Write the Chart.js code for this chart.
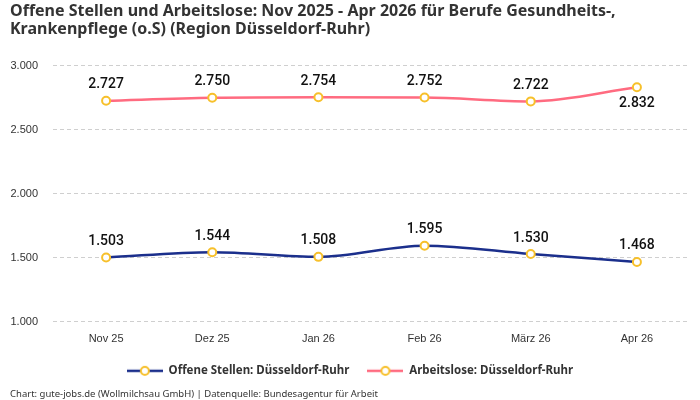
<!DOCTYPE html>
<html><head><meta charset="utf-8">
<script src="https://cdn.jsdelivr.net/npm/chart.js@4/dist/chart.umd.min.js"></script>
<style>html,body{margin:0;padding:0;background:#fff}#wrap{width:700px;height:400px}</style>
</head><body><div id="wrap"><canvas id="c" width="700" height="400"></canvas></div>
<script>
const categories = ["Nov 25","Dez 25","Jan 26","Feb 26","März 26","Apr 26"];
const offeneStellen = [1503,1544,1508,1595,1530,1468];
const arbeitslose = [2727,2750,2754,2752,2722,2832];
const seriesNames = ["Offene Stellen: Düsseldorf-Ruhr","Arbeitslose: Düsseldorf-Ruhr"];
const titleLines = ["Offene Stellen und Arbeitslose: Nov 2025 - Apr 2026 für Berufe Gesundheits-,","Krankenpflege (o.S) (Region Düsseldorf-Ruhr)"];
const footerText = "Chart: gute-jobs.de (Wollmilchsau GmbH) | Datenquelle: Bundesagentur für Arbeit";

const fmt = v => v.toLocaleString('de-DE');
const pointColor = '#f7c02b';
function legendIcon(color){
  const c = document.createElement('canvas'); c.width = 36; c.height = 12;
  const x = c.getContext('2d');
  x.strokeStyle = color; x.lineWidth = 2.5; x.beginPath(); x.moveTo(0,6); x.lineTo(36,6); x.stroke();
  x.fillStyle = '#fff'; x.strokeStyle = pointColor; x.lineWidth = 2; x.beginPath(); x.arc(18,6,4,0,Math.PI*2); x.fill(); x.stroke();
  return c;
}
const labelPlugin = {
  id:'valLabels',
  afterDatasetsDraw(chart){
    const ctx = chart.ctx;
    ctx.save();
    ctx.font = '500 14px Roboto, "Liberation Sans", Arial, sans-serif';
    ctx.fillStyle = '#111';
    ctx.textAlign = 'center'; ctx.textBaseline = 'middle';
    chart.data.datasets.forEach((ds,di)=>{
      const meta = chart.getDatasetMeta(di);
      meta.data.forEach((pt,i)=>{
        const below = pt.y - chart.chartArea.top < 24;
        ctx.fillText(fmt(ds.data[i]), pt.x, below ? pt.y + 16 : pt.y - 16);
      });
    });
    ctx.restore();
  }
};
new Chart(document.getElementById('c'),{
  type:'line',
  data:{labels:categories,datasets:[
    {label:seriesNames[0],data:offeneStellen,borderColor:'#1b2f8c',backgroundColor:'#1b2f8c',borderWidth:2.5,cubicInterpolationMode:'monotone',
     pointRadius:4,pointBorderWidth:2,pointBackgroundColor:'#fff',pointBorderColor:pointColor,pointStyle:'circle'},
    {label:seriesNames[1],data:arbeitslose,borderColor:'#ff6b80',backgroundColor:'#ff6b80',borderWidth:2.5,cubicInterpolationMode:'monotone',
     pointRadius:4,pointBorderWidth:2,pointBackgroundColor:'#fff',pointBorderColor:pointColor,pointStyle:'circle'}
  ]},
  options:{
    responsive:false,animation:false,
    layout:{padding:{left:10,right:10,top:2,bottom:0}},
    scales:{
      x:{offset:true,grid:{display:false},border:{display:false},ticks:{color:'#333',padding:2,font:{family:'"Liberation Sans", Arial, sans-serif',size:11}}},
      y:{min:1000,max:3000,
         afterFit(scale){scale.width = 43;},
         grid:{color:'#cfcfcf',tickLength:0},
         border:{display:false,dash:[4,3]},
         ticks:{stepSize:500,color:'#333',padding:15,font:{family:'"Liberation Sans", Arial, sans-serif',size:11},callback:v=>fmt(v)}}
    },
    plugins:{
      title:{display:true,text:titleLines,align:'start',color:'#333',font:{family:'"Noto Sans", sans-serif',size:16,weight:'bold',lineHeight:1.15},padding:{top:0,bottom:27}},
      legend:{position:'bottom',labels:{color:'#333',font:{family:'"Noto Sans", sans-serif',size:11.5,weight:'bold'},usePointStyle:true,pointStyleWidth:36,padding:18,
        generateLabels(chart){return chart.data.datasets.map((d,i)=>({text:d.label,pointStyle:legendIcon(d.borderColor),datasetIndex:i,fontColor:'#333',lineWidth:0,strokeStyle:'transparent',fillStyle:'transparent'}));}}},
      subtitle:{display:true,position:'bottom',align:'start',text:footerText,color:'#333',font:{family:'"Noto Sans", sans-serif',size:9.5},padding:{top:2,bottom:0}},
      tooltip:{enabled:false}
    }
  },
  plugins:[labelPlugin]
});
</script></body></html>
